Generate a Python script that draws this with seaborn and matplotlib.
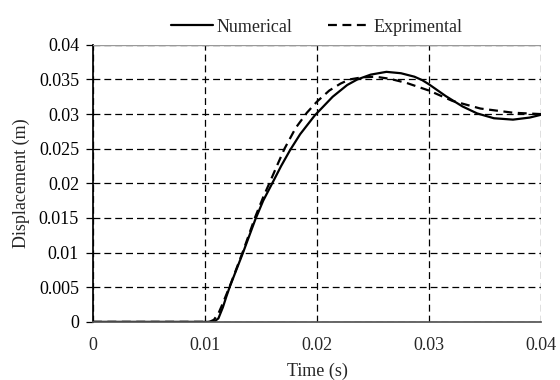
import matplotlib
matplotlib.use("Agg")
import matplotlib.pyplot as plt
import pandas as pd
import seaborn as sns

# numerical response (solid)
time_num = [0, 0.0100, 0.0108, 0.0112, 0.0116, 0.0119, 0.0122, 0.0134, 0.0145,
            0.0152, 0.0161, 0.0168, 0.0176, 0.0185, 0.0198, 0.0214, 0.0227,
            0.0236, 0.0248, 0.0262, 0.0275, 0.0287, 0.0294, 0.0300, 0.0315,
            0.0330, 0.0343, 0.0358, 0.0375, 0.0390, 0.0400]
disp_num = [0, 0, 0, 0.0005, 0.0021, 0.0036, 0.0050, 0.0100, 0.0148,
            0.0175, 0.0203, 0.0225, 0.0248, 0.0271, 0.0298, 0.0325, 0.0342,
            0.0350, 0.0357, 0.0361, 0.0359, 0.0354, 0.0349, 0.0343, 0.0326,
            0.0311, 0.0301, 0.0294, 0.0292, 0.0295, 0.0299]

# experimental response (dashed)
time_exp = [0, 0.0100, 0.0104, 0.0108, 0.0112, 0.0116, 0.0120, 0.0123, 0.0134,
            0.0145, 0.0152, 0.0158, 0.0165, 0.0171, 0.0181, 0.0191, 0.0200,
            0.0211, 0.0221, 0.0229, 0.0240, 0.0252, 0.0265, 0.0280, 0.0300,
            0.0321, 0.0346, 0.0375, 0.0400]
disp_exp = [0, 0, 0, 0.0003, 0.0012, 0.0027, 0.0043, 0.0055, 0.0102,
            0.0152, 0.0180, 0.0202, 0.0228, 0.0250, 0.0280, 0.0302, 0.0318,
            0.0334, 0.0344, 0.0350, 0.0353, 0.0354, 0.0351, 0.0345, 0.0334,
            0.0319, 0.0308, 0.0302, 0.0300]

xticks = [0, 0.01, 0.02, 0.03, 0.04]
xtick_labels = ["0", "0.01", "0.02", "0.03", "0.04"]
yticks = [0, 0.005, 0.01, 0.015, 0.02, 0.025, 0.03, 0.035, 0.04]
ytick_labels = ["0", "0.005", "0.01", "0.015", "0.02", "0.025", "0.03", "0.035", "0.04"]

sns.set_theme(style="white")
plt.rcParams["font.family"] = ["Liberation Serif", "DejaVu Serif"]

df_num = pd.DataFrame({"t": time_num, "d": disp_num})
df_exp = pd.DataFrame({"t": time_exp, "d": disp_exp})

fig = plt.figure(figsize=(5.6, 3.8), dpi=100)
ax = fig.add_axes([0.166, 0.153, 0.800, 0.729])

sns.lineplot(data=df_num, x="t", y="d", ax=ax, color="black", linewidth=1.6,
             label="Numerical", sort=False)
sns.lineplot(data=df_exp, x="t", y="d", ax=ax, color="black", linewidth=1.6,
             linestyle=(0, (4, 2.5)), label="Exprimental", sort=False)

ax.set_xlim(0, 0.04)
ax.set_ylim(0, 0.04)
ax.set_xticks(xticks)
ax.set_xticklabels(xtick_labels)
ax.set_yticks(yticks)
ax.set_yticklabels(ytick_labels)

ax.grid(True, color="black", linestyle=(0, (5.5, 3.2)), linewidth=0.9)
ax.set_axisbelow(True)
for side in ["top", "right"]:
    ax.spines[side].set_visible(False)
ax.spines["left"].set_color("black")
ax.spines["bottom"].set_color("#555555")
ax.axhline(0.04, color="#999999", linewidth=1.0, zorder=3)

ax.tick_params(axis="y", direction="out", length=5, width=0.9, colors="black",
               labelsize=13, left=True, pad=5)
ax.tick_params(axis="x", length=0, labelsize=13, pad=11)

ax.set_xlabel("Time (s)", fontsize=13, labelpad=6)
ax.set_ylabel("Displacement (m)", fontsize=13, labelpad=6)

ax.legend(loc="lower center", bbox_to_anchor=(0.5, 1.0), ncol=2, frameon=False,
          fontsize=13, handlelength=2.3, handletextpad=0.2, columnspacing=2.0,
          borderaxespad=0.1)

fig.savefig("out.png", dpi=100)
